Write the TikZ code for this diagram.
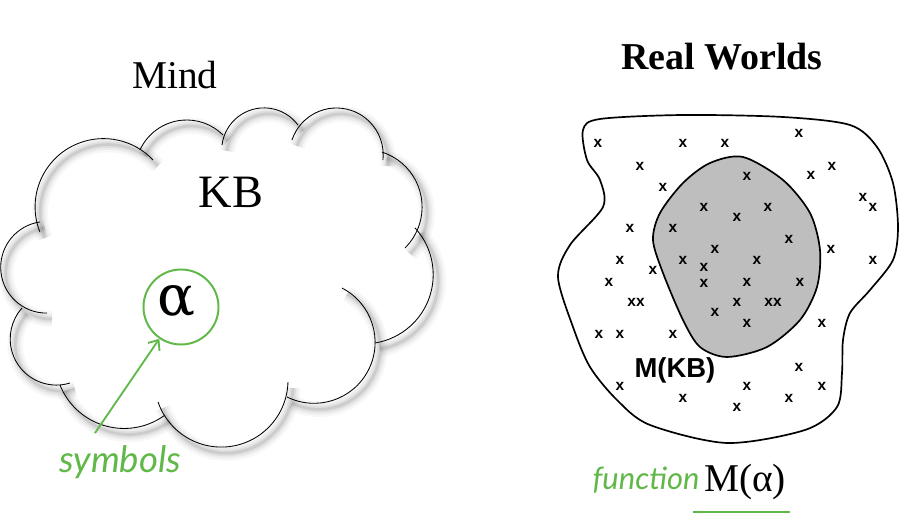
\documentclass[tikz,border=0pt]{standalone}
\usepackage{fontspec}
\setmainfont{Liberation Serif}
\newfontfamily\sansbold{Liberation Sans}
\newfontfamily\handfont{Lato}
\newfontfamily\greekfont{DejaVu Serif}
\usepackage{xcolor}
\definecolor{mygreen}{RGB}{96,184,72}
\definecolor{mygray}{RGB}{190,190,190}
\usetikzlibrary{arrows.meta}
\newcommand{\pu}{0.025cm}
\newcommand{\puffs}{103.4/325.1/68.3/201.6/43.4, 186.7/360.6/51.4/155.4/45.1, 264.0/381.8/42.3/172.9/36.5,
  336.4/377.2/46.8/161.6/-6.4, 364.5/325.0/57.6/72.3/-45.3, 364.0/257.3/69.2/42.5/-80.9,
  314.1/189.7/61.0/62.8/-116.4, 221.2/151.7/66.8/-1.5/-161.1, 124.1/172.5/69.0/-53.6/-158.3,
  56.4/193.1/46.2/-72.9/-221.9, 46.5/264.7/45.8/-89.4/-261.8}
\tikzset{
  puff/.style={line width=0.6pt},
  blob/.style={line width=1.2pt},
  xmark/.style={font=\sansbold\bfseries\fontsize{11}{11}\selectfont, inner sep=0pt},
  hand/.style={text=mygreen, font=\handfont\itshape\fontsize{#1}{#1}\selectfont},
}

\begin{document}
\begin{tikzpicture}[x=0.025cm, y=0.025cm]
      \useasboundingbox (0,0) rectangle (904,532);
      \foreach \w/\o in {2/0.08, 4.5/0.06, 7.5/0.045, 11/0.03}
        \foreach \cx/\cy/\r/\a/\b in \puffs
          \draw[black, opacity=\o, line width=\w pt, shift={(5,-6)}] (\cx,\cy) ++(\a:\r) arc[start angle=\a, end angle=\b, radius=\r*\pu];
      \foreach \cx/\cy/\r/\a/\b in \puffs
        \draw[puff] (\cx,\cy) ++(\a:\r) arc[start angle=\a, end angle=\b, radius=\r*\pu];

      \node[font=\fontsize{28}{30}\selectfont] (mind) at (175,457) {Mind};
      \node[font=\fontsize{33}{36}\selectfont] (kb) at (231,340) {KB};
      \node[draw=mygreen, line width=1.4pt, circle, minimum size=1.875cm, inner sep=0pt] (alpha) at (181,225) {};
      \node[font=\greekfont\fontsize{40}{40}\selectfont, inner sep=0pt] (alphatext) at (176,231) {α};
      \coordinate (symtail) at (95,99);
      \draw[mygreen, line width=1.3pt, -{Straight Barb[length=6pt,width=10pt]}] (symtail) -- (alpha);
      \node[hand=26] (symbols) at (120,70) {symbols};

      \node[font=\bfseries\fontsize{27}{30}\selectfont] (real) at (722,475) {Real Worlds};
      \draw[blob, fill=white] plot[smooth cycle] coordinates {(583,402) (600,413) (683,417) (783,415) (850,407) (877,385) (893,349) (898,305) (893,272) (870,242) (850,219) (843,192) (842,159) (837,125) (805,102) (727,89) (650,107) (617,132) (590,165) (573,205) (558,255) (570,287) (603,325) (600,352) (587,372)};
      \draw[blob, fill=mygray] plot[smooth cycle] coordinates {(743,375) (783,352) (810,319) (820,282) (817,245) (800,212) (767,185) (727,175) (700,185) (683,212) (663,259) (653,292) (660,319) (683,349) (710,369)};
      \foreach \p [count=\i] in {(598,389), (683,389), (725,389), (799,399), (640,366), (747,356), (832,366), (811,357), (663,345), (863,335), (873,325), (704,325), (768,325), (737,315), (630,304), (673,304), (789,293), (715,283), (831,283), (620,272), (683,272), (653,262), (757,272), (873,272), (704,265), (704,249), (609,250), (747,250), (800,250), (737,230), (715,220), (747,209), (822,209), (599,198), (620,198), (673,198), (799,165), (620,146), (747,146), (822,146), (683,134), (789,134), (737,125)}
        \node[xmark] (x\i) at \p {x};
      \node[xmark] (xxa) at (636,230) {xx};
      \node[xmark] (xxb) at (773,230) {xx};
      \node[font=\sansbold\bfseries\fontsize{19.5}{20}\selectfont] (mkb) at (675,162) {M(KB)};

      \node[font=\fontsize{28}{30}\selectfont] (malpha) at (745,50) {M(α)};
      \node[hand=22] (function) at (646,52) {function};
      \coordinate (ula) at (693,20);
      \coordinate (ulb) at (790,20);
      \draw[mygreen, line width=2pt] (ula) -- (ulb);
    \end{tikzpicture}
\end{document}
